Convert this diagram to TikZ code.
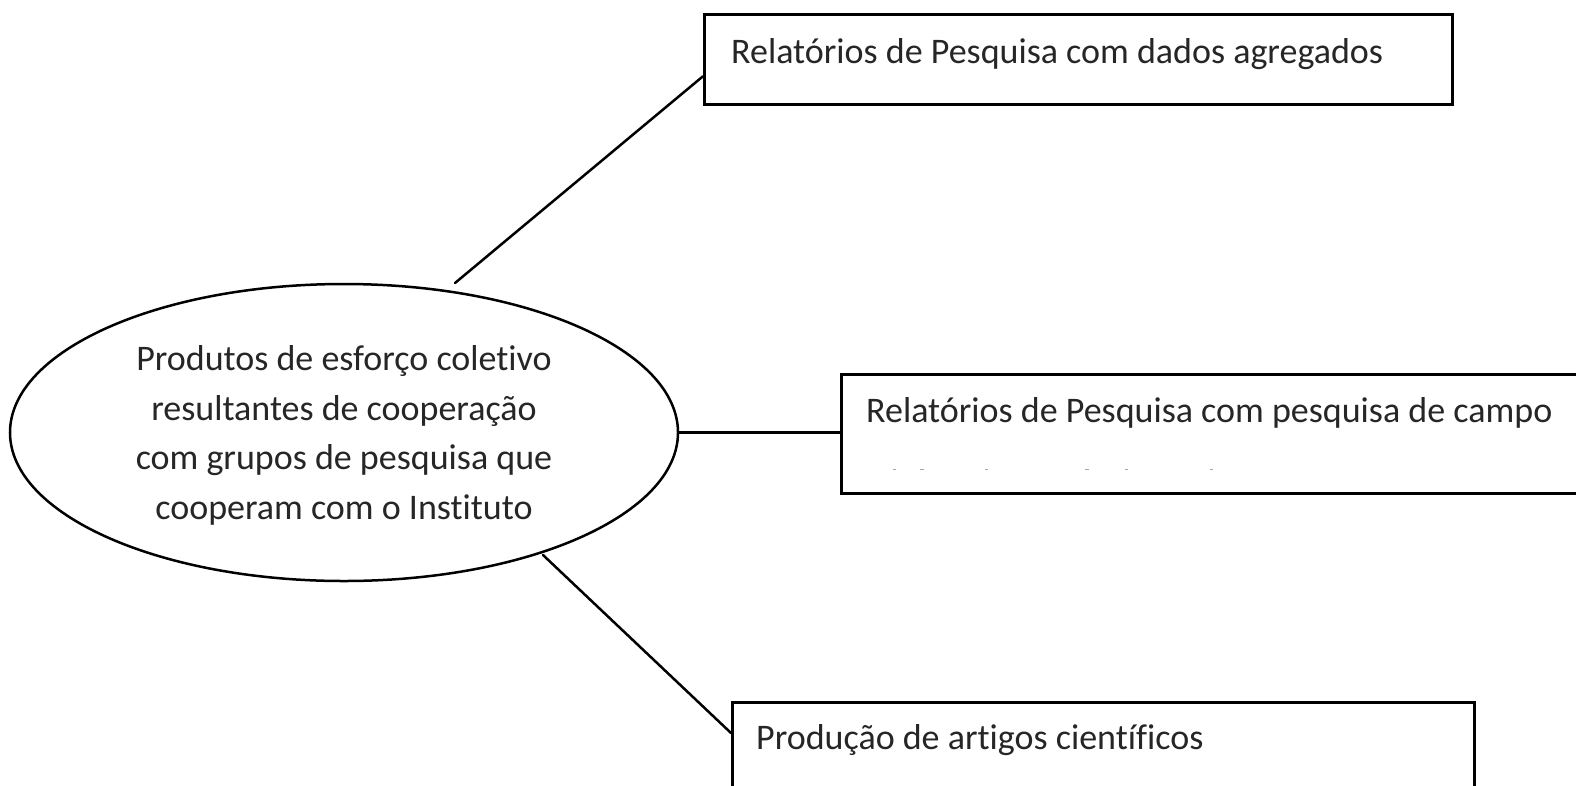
\documentclass[tikz,border=0pt]{standalone}
\usepackage{fontspec}
\setmainfont{Carlito}[Ligatures=NoCommon]
\usetikzlibrary{shapes.geometric}
\begin{document}
\begin{tikzpicture}[x=1pt,y=-1pt,
  lw/.style={line width=2.5pt},
  boxshape/.style={draw,lw,rectangle,inner sep=0pt,anchor=north west},
  boxtext/.style={anchor=base west,inner sep=0pt,text=black!85,font=\fontsize{36}{44}\selectfont},
  conn/.style={lw,line cap=round}]
\useasboundingbox (0,0) rectangle (1576,785);
\fill[white] (0,0) rectangle (1576,785);
% central ellipse
\node[draw,lw,ellipse,minimum width=668pt,minimum height=297pt,inner sep=0pt] (ell) at (344,432.5) {};
\node[align=center,inner sep=0pt,text=black!85,font=\fontsize{36}{49.5}\selectfont,anchor=base]
  (etext) at (344,519)
  {Produtos de esforço coletivo\\resultantes de cooperação\\com grupos de pesquisa que\\cooperam com o Instituto};
% boxes
\node[boxshape,minimum width=748pt,minimum height=90pt] (b1) at (703,13) {};
\node[boxshape,minimum width=740pt,minimum height=119pt] (b2) at (840,373) {};
\node[boxshape,minimum width=742pt,minimum height=110pt] (b3) at (731,701) {};
\node[boxtext] (t1) at (731,63) {Relatórios de Pesquisa com dados agregados};
\node[boxtext] (t2) at (866,422) {Relatórios de Pesquisa com pesquisa de campo};
\node[boxtext] (t3) at (756,749) {Produção de artigos científicos};
% faint marks in box 2
\foreach \mx/\ml in {893/3,920/4,985/3,1085/4,1125/3,1210/3}
  \draw[black!35,line width=1pt] (\mx,469) -- ++(\ml,0);
% connectors
\coordinate (s1) at (455,283);
\coordinate (s3) at (543,555);
\draw[conn] (s1) -- ([yshift=-17pt]b1.west);
\draw[conn] (ell.east) -- (b2.west |- ell.east);
\draw[conn] (s3) -- ([yshift=-32pt]b3.north west);
\end{tikzpicture}
\end{document}
